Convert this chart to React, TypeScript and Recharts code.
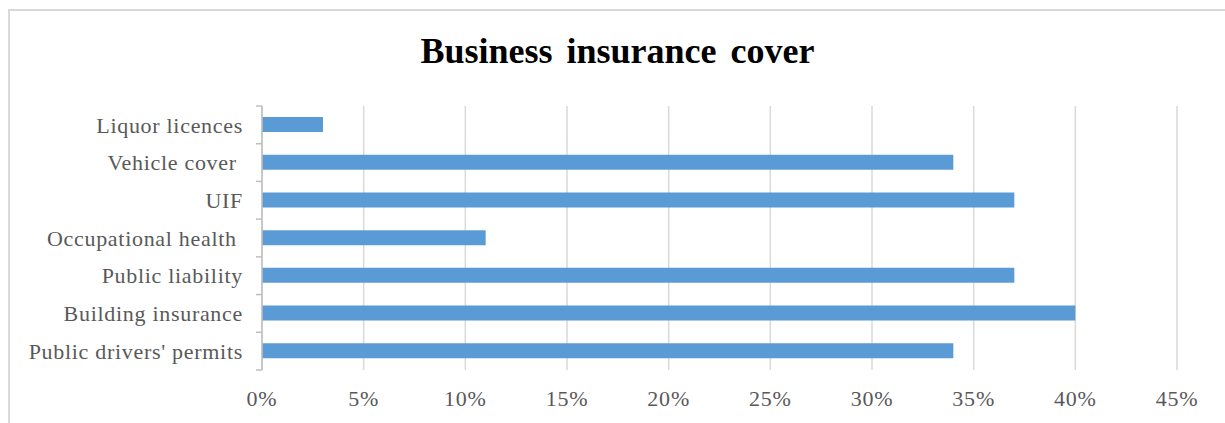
import { BarChart, Bar, XAxis, YAxis, CartesianGrid } from 'recharts';

const categories = [
  'Liquor licences',
  'Vehicle cover ',
  'UIF',
  'Occupational health ',
  'Public liability',
  'Building insurance',
  "Public drivers' permits",
];
const shares = [3, 34, 37, 11, 37, 40, 34];
const xTicks = [0, 5, 10, 15, 20, 25, 30, 35, 40, 45];

const data = categories.map((name, i) => ({ name, value: shares[i] }));

const FONT = '"Liberation Serif", "Times New Roman", serif';
const TEXT = '#595959';
const AXIS = '#bfbfbf';
const GRID = '#d9d9d9';
const BLUE = '#5b9bd5';

const TOP = 106;
const BOTTOM_PLOT = 370;
const AXIS_X = 262;
const BAND = (BOTTOM_PLOT - TOP) / categories.length;

function CategoryTick(props: any) {
  const { y, payload, index } = props;
  const top = y - BAND / 2;
  const bottom = y + BAND / 2;
  return (
    <g>
      <line x1={AXIS_X - 6} x2={AXIS_X} y1={top} y2={top} stroke={AXIS} strokeWidth={1.5} />
      {index === categories.length - 1 && (
        <line x1={AXIS_X - 6} x2={AXIS_X} y1={bottom} y2={bottom} stroke={AXIS} strokeWidth={1.5} />
      )}
      <text
        x={AXIS_X - 19}
        y={y}
        dy="0.35em"
        textAnchor="end"
        fill={TEXT}
        fontSize={22}
        fontFamily={FONT}
        letterSpacing={0.7}
        style={{ whiteSpace: 'pre' }}
      >
        {payload.value}
      </text>
    </g>
  );
}

export default function App() {
  return (
    <div style={{ position: 'absolute', left: 0, top: 0, width: 1225, height: 423, overflow: 'hidden', background: '#fff' }}>
      <div
        style={{
          position: 'absolute',
          left: 8,
          top: 9,
          width: 1400,
          height: 600,
          borderTop: '2px solid #d9d9d9',
          borderLeft: '2px solid #d9d9d9',
        }}
      />
      <div
        style={{
          position: 'absolute',
          left: 0,
          top: 33,
          width: 1235,
          textAlign: 'center',
          fontFamily: FONT,
          fontWeight: 'bold',
          fontSize: 36,
          lineHeight: 1,
          wordSpacing: 5,
          color: '#000',
        }}
      >
        Business insurance cover
      </div>
      <div style={{ position: 'absolute', left: 0, top: 0 }}>
        <BarChart
          width={1225}
          height={423}
          data={data}
          layout="vertical"
          margin={{ top: TOP, right: 48, bottom: 0, left: 0 }}
        >
          <CartesianGrid horizontal={false} stroke={GRID} strokeWidth={1.5} />
          <XAxis
            type="number"
            domain={[0, 45]}
            ticks={xTicks}
            tickFormatter={(v) => `${v}%`}
            axisLine={false}
            tickLine={false}
            tickSize={0}
            tickMargin={20}
            height={423 - BOTTOM_PLOT}
            tick={{ fill: TEXT, fontSize: 22, fontFamily: FONT, letterSpacing: 0.8 }}
          />
          <YAxis
            type="category"
            dataKey="name"
            width={AXIS_X}
            axisLine={{ stroke: AXIS, strokeWidth: 1.5 }}
            tickLine={false}
            tick={<CategoryTick />}
            interval={0}
          />
          <Bar dataKey="value" fill={BLUE} barSize={15} isAnimationActive={false} />
        </BarChart>
      </div>
    </div>
  );
}
